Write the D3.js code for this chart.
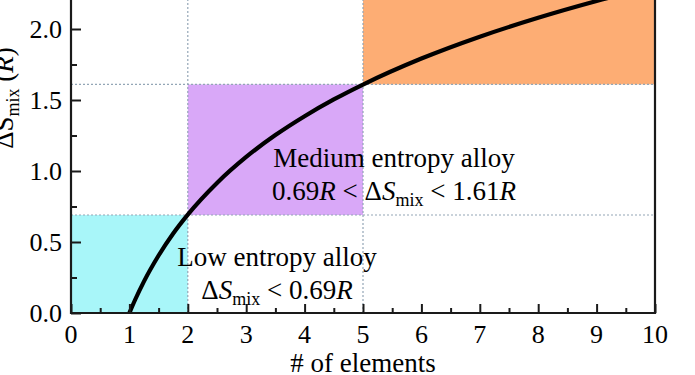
<!DOCTYPE html>
<html lang="en">
<head>
    <meta charset="utf-8">
    <title>Entropy of mixing</title>
    <script src="https://d3js.org/d3.v7.min.js"></script>
    <style>
        body { margin: 0; background: white; }
        svg { display: block; font-family: "Liberation Serif", "DejaVu Serif", serif; }
    </style>
</head>
<body>
    <div id="chart"></div>
    <script>
        // ΔSmix = R ln(n)
        var nElements = [1, 1.1, 1.25, 1.5, 1.75, 2, 2.5, 3, 3.5, 4, 4.5, 5, 6, 7, 8, 9, 10];
        var dSmix     = [0, 0.095, 0.223, 0.405, 0.560, 0.693, 0.916, 1.099, 1.253, 1.386, 1.504, 1.609, 1.792, 1.946, 2.079, 2.197, 2.303];

        // region bounds
        var lowLimit = 0.69, highLimit = 1.61;
        var regions = [
            { x0: 0, x1: 2,  y0: 0,         y1: lowLimit,  color: "#a8f6f9" },
            { x0: 2, x1: 5,  y0: lowLimit,  y1: highLimit, color: "#d9a8f8" },
            { x0: 5, x1: 10, y0: highLimit, y1: 2.4,       color: "#fdad74" }
        ];
        var xTicks = [0, 1, 2, 3, 4, 5, 6, 7, 8, 9, 10];
        var yTicks = [0, 0.5, 1.0, 1.5, 2.0];

        var width = 695, height = 375;
        var svg = d3.select("#chart").append("svg")
            .attr("width", width).attr("height", height);

        var x = d3.scaleLinear().domain([0, 10]).range([71, 655]);
        var y = d3.scaleLinear().domain([0, 2.3]).range([313, 313 - 142 * 2.3]);
        var yTop = y(2.4);

        // coloured regions
        svg.selectAll("rect.region").data(regions).enter().append("rect")
            .attr("class", "region")
            .attr("x", d => x(d.x0))
            .attr("width", d => x(d.x1) - x(d.x0))
            .attr("y", d => y(d.y1))
            .attr("height", d => y(d.y0) - y(d.y1))
            .attr("fill", d => d.color);

        // dotted guide lines
        var guide = svg.append("g")
            .attr("stroke", "#93a6b6")
            .attr("stroke-width", 1.2)
            .attr("stroke-dasharray", "2,2");
        [2, 5].forEach(v => {
            guide.append("line")
                .attr("x1", x(v)).attr("x2", x(v))
                .attr("y1", y(0)).attr("y2", yTop);
        });
        [lowLimit, highLimit].forEach(v => {
            guide.append("line")
                .attr("x1", x(0)).attr("x2", x(10))
                .attr("y1", y(v)).attr("y2", y(v));
        });

        // curve
        var pts = nElements.map((n, i) => [n, dSmix[i]]);
        svg.append("path")
            .datum(pts)
            .attr("fill", "none")
            .attr("stroke", "#000")
            .attr("stroke-width", 4.2)
            .attr("d", d3.line().x(d => x(d[0])).y(d => y(d[1])).curve(d3.curveMonotoneX));

        // axes: inward ticks, minor ticks at half steps
        var xAxis = svg.append("g").attr("transform", "translate(0," + y(0) + ")");
        xAxis.call(d3.axisTop(x).tickValues(xTicks).tickSize(9).tickFormat(""));
        xAxis.append("g").call(d3.axisTop(x).tickValues(d3.range(0.5, 10, 1)).tickSize(5).tickFormat(""));
        xAxis.selectAll(".domain").remove();
        xAxis.selectAll("line").attr("stroke", "#1a1a1a").attr("stroke-width", 2);
        svg.append("g").selectAll("text").data(xTicks).enter().append("text")
            .attr("x", d => x(d)).attr("y", 343)
            .attr("text-anchor", "middle")
            .attr("font-size", 26)
            .text(d => d);

        var yAxis = svg.append("g").attr("transform", "translate(" + x(0) + ",0)");
        yAxis.call(d3.axisRight(y).tickValues(yTicks).tickSize(10).tickFormat(""));
        yAxis.append("g").call(d3.axisRight(y).tickValues([0.25, 0.75, 1.25, 1.75, 2.25]).tickSize(6).tickFormat(""));
        yAxis.selectAll(".domain").remove();
        yAxis.selectAll("line").attr("stroke", "#1a1a1a").attr("stroke-width", 2);
        svg.append("g").selectAll("text").data(yTicks).enter().append("text")
            .attr("x", 62).attr("y", d => y(d) + 9)
            .attr("text-anchor", "end")
            .attr("font-size", 26)
            .text(d => d3.format(".1f")(d));

        // frame lines
        svg.append("path")
            .attr("d", "M" + x(0) + "," + yTop + "V" + y(0) + "H" + x(10) + "V" + yTop)
            .attr("fill", "none")
            .attr("stroke", "#1a1a1a")
            .attr("stroke-width", 2.2);

        // axis titles
        svg.append("text")
            .attr("x", (x(0) + x(10)) / 2).attr("y", 372)
            .attr("text-anchor", "middle")
            .attr("font-size", 27)
            .text("# of elements");

        var yl = svg.append("text")
            .attr("transform", "translate(13,98) rotate(-90)")
            .attr("text-anchor", "middle")
            .attr("font-size", 27);
        yl.append("tspan").text("ΔS");
        yl.append("tspan").attr("font-size", 18).attr("dy", 6).text("mix");
        yl.append("tspan").attr("dy", -6).text(" (");
        yl.append("tspan").attr("font-style", "italic").text("R");
        yl.append("tspan").text(")");

        // annotations
        function note(cx, baseline, first, parts) {
            svg.append("text")
                .attr("x", cx).attr("y", baseline)
                .attr("text-anchor", "middle")
                .attr("font-size", 27)
                .text(first);
            var t = svg.append("text")
                .attr("x", cx).attr("y", baseline + 33)
                .attr("text-anchor", "middle")
                .attr("font-size", 27);
            parts.forEach(p => {
                var s = t.append("tspan").text(p.t);
                if (p.i) s.attr("font-style", "italic");
                if (p.sub) s.attr("font-size", 18).attr("dy", 6);
                if (p.up) s.attr("dy", -6);
            });
        }

        note(394, 167, "Medium entropy alloy", [
            { t: "0.69" }, { t: "R", i: true }, { t: " < Δ" }, { t: "S", i: true },
            { t: "mix", sub: true }, { t: " < 1.61", up: true }, { t: "R", i: true }
        ]);
        note(277, 266, "Low entropy alloy", [
            { t: "Δ" }, { t: "S", i: true }, { t: "mix", sub: true },
            { t: " < 0.69", up: true }, { t: "R", i: true }
        ]);
    </script>
</body>
</html>
